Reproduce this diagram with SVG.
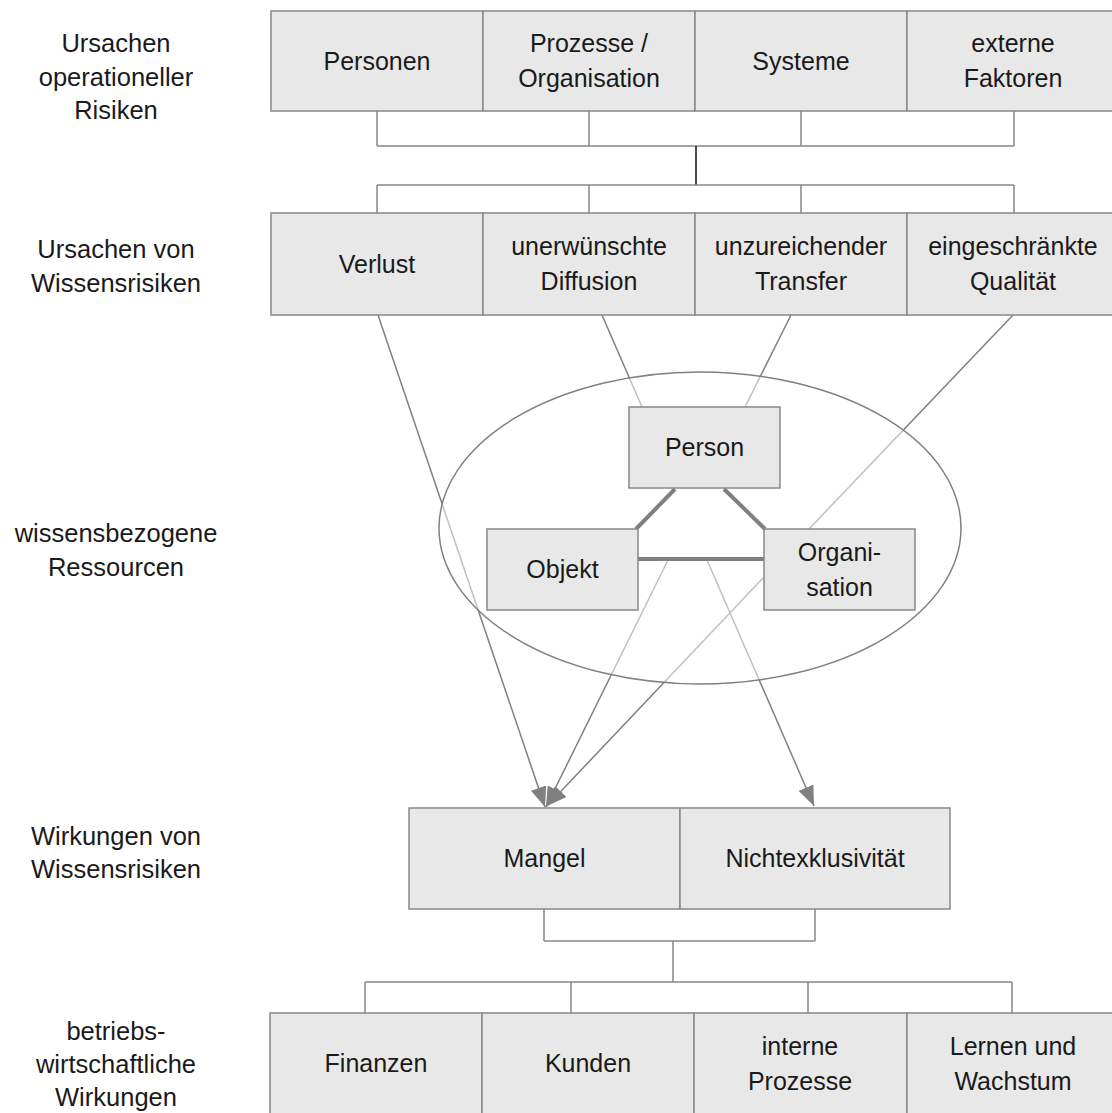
<svg xmlns="http://www.w3.org/2000/svg" width="1112" height="1113" viewBox="0 0 1112 1113">
  <style>
    .box { fill: #e8e8e8; stroke: #888; stroke-width: 1.5; }
    .t { font-family: "Liberation Sans", Arial, sans-serif; font-size: 25px; fill: #1a1a1a; text-anchor: middle; }
    .lbl { font-family: "Liberation Sans", Arial, sans-serif; font-size: 25.5px; fill: #1a1a1a; text-anchor: middle; }
    .br { fill: none; stroke: #888; stroke-width: 1.5; }
    .ln { fill: none; stroke: #808080; stroke-width: 1.5; }
    .tri { fill: none; stroke: #808080; stroke-width: 4; }
  </style>
  <defs>
    <marker id="arrow" markerUnits="userSpaceOnUse" markerWidth="22" markerHeight="16" refX="20" refY="8" orient="auto">
      <path d="M0,0 L20,8 L0,16 Z" fill="#808080"/>
    </marker>
  </defs>

  <rect width="1112" height="1113" fill="#fff"/>

  <!-- level captions -->
  <g id="captions">
    <text class="lbl" x="116" y="52">Ursachen</text>
    <text class="lbl" x="116" y="86">operationeller</text>
    <text class="lbl" x="116" y="119">Risiken</text>
    <text class="lbl" x="116" y="258">Ursachen von</text>
    <text class="lbl" x="116" y="292">Wissensrisiken</text>
    <text class="lbl" x="116" y="542">wissensbezogene</text>
    <text class="lbl" x="116" y="576">Ressourcen</text>
    <text class="lbl" x="116" y="845">Wirkungen von</text>
    <text class="lbl" x="116" y="878">Wissensrisiken</text>
    <text class="lbl" x="116" y="1040">betriebs-</text>
    <text class="lbl" x="116" y="1073">wirtschaftliche</text>
    <text class="lbl" x="116" y="1106">Wirkungen</text>
  </g>

  <!-- connectors -->
  <g id="connectors">
    <!-- bracket below operational risk causes -->
    <path class="br" d="M377,111 V146 M589,111 V146 M801,111 V146 M1014,111 V146 M377,146 H1014"/>
    <path d="M696,146 V185" stroke="#111" stroke-width="1.5"/>
    <path class="br" d="M377,185 H1014 M377,185 V213 M589,185 V213 M801,185 V213 M1014,185 V213"/>
    <!-- knowledge risk causes to resources and effects -->
    <line class="ln" x1="378" y1="315" x2="545" y2="807" marker-end="url(#arrow)"/>
    <line class="ln" x1="602" y1="315" x2="642" y2="407"/>
    <line class="ln" x1="791" y1="315" x2="745" y2="407"/>
    <line class="ln" x1="1013" y1="315" x2="809" y2="529"/>
    <line class="ln" x1="668" y1="560" x2="546" y2="807" marker-end="url(#arrow)"/>
    <line class="ln" x1="763" y1="578" x2="547" y2="806" marker-end="url(#arrow)"/>
    <line class="ln" x1="707" y1="560" x2="814" y2="806" marker-end="url(#arrow)"/>
    <!-- bracket below effects -->
    <path class="br" d="M544,909 V941 M815,909 V941 M544,941 H815 M673,941 V982 M365,982 H1012 M365,982 V1013 M571,982 V1013 M808,982 V1013 M1012,982 V1013"/>
  </g>

  <!-- resource ellipse, translucent so lines behind it appear lighter -->
  <ellipse id="resources" cx="700" cy="528" rx="261" ry="156" fill="#fff" fill-opacity="0.5" stroke="#808080" stroke-width="1.5"/>

  <!-- relations between resources -->
  <g id="triangle">
    <line class="tri" x1="675" y1="489" x2="636" y2="529"/>
    <line class="tri" x1="724" y1="489" x2="765" y2="529"/>
    <line class="tri" x1="638" y1="559" x2="764" y2="559"/>
  </g>

  <!-- operational risk causes -->
  <g id="personen"><rect class="box" x="271" y="11" width="212" height="100"/><text class="t" x="377" y="70">Personen</text></g>
  <g id="prozesse"><rect class="box" x="483" y="11" width="212" height="100"/><text class="t" x="589" y="52">Prozesse /</text><text class="t" x="589" y="87">Organisation</text></g>
  <g id="systeme"><rect class="box" x="695" y="11" width="212" height="100"/><text class="t" x="801" y="70">Systeme</text></g>
  <g id="externe"><rect class="box" x="907" y="11" width="212" height="100"/><text class="t" x="1013" y="52">externe</text><text class="t" x="1013" y="87">Faktoren</text></g>

  <!-- knowledge risk causes -->
  <g id="verlust"><rect class="box" x="271" y="213" width="212" height="102"/><text class="t" x="377" y="273">Verlust</text></g>
  <g id="diffusion"><rect class="box" x="483" y="213" width="212" height="102"/><text class="t" x="589" y="255">unerwünschte</text><text class="t" x="589" y="290">Diffusion</text></g>
  <g id="transfer"><rect class="box" x="695" y="213" width="212" height="102"/><text class="t" x="801" y="255">unzureichender</text><text class="t" x="801" y="290">Transfer</text></g>
  <g id="qualitaet"><rect class="box" x="907" y="213" width="212" height="102"/><text class="t" x="1013" y="255">eingeschränkte</text><text class="t" x="1013" y="290">Qualität</text></g>

  <!-- knowledge resources -->
  <g id="person"><rect class="box" x="629" y="407" width="151" height="81"/><text class="t" x="704.5" y="456">Person</text></g>
  <g id="objekt"><rect class="box" x="487" y="529" width="151" height="81"/><text class="t" x="562.5" y="578">Objekt</text></g>
  <g id="organisation"><rect class="box" x="764" y="529" width="151" height="81"/><text class="t" x="839.5" y="561">Organi-</text><text class="t" x="839.5" y="596">sation</text></g>

  <!-- knowledge risk effects -->
  <g id="mangel"><rect class="box" x="409" y="808" width="271" height="101"/><text class="t" x="544.5" y="867">Mangel</text></g>
  <g id="nichtexklusivitaet"><rect class="box" x="680" y="808" width="270" height="101"/><text class="t" x="815" y="867">Nichtexklusivität</text></g>

  <!-- business effects -->
  <g id="finanzen"><rect class="box" x="270" y="1013" width="212" height="105"/><text class="t" x="376" y="1072">Finanzen</text></g>
  <g id="kunden"><rect class="box" x="482" y="1013" width="212" height="105"/><text class="t" x="588" y="1072">Kunden</text></g>
  <g id="interne"><rect class="box" x="694" y="1013" width="213" height="105"/><text class="t" x="800" y="1055">interne</text><text class="t" x="800" y="1090">Prozesse</text></g>
  <g id="lernen"><rect class="box" x="907" y="1013" width="212" height="105"/><text class="t" x="1013" y="1055">Lernen und</text><text class="t" x="1013" y="1090">Wachstum</text></g>
</svg>
